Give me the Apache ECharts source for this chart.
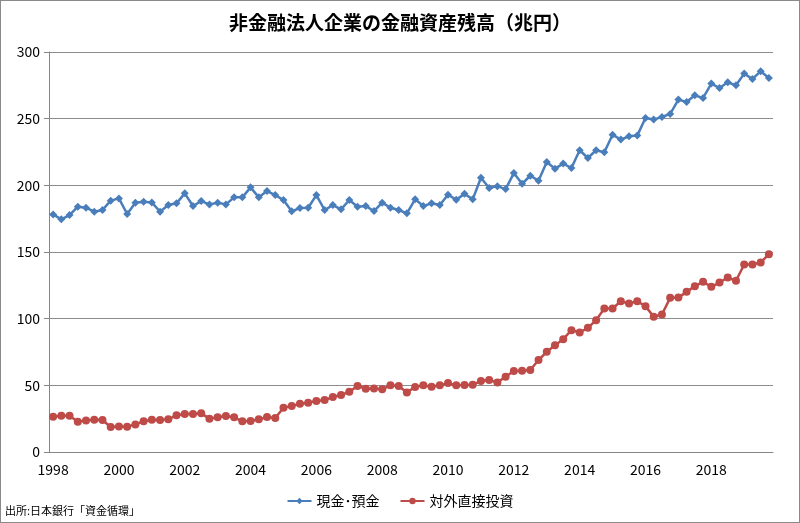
<!DOCTYPE html>
<html><head><meta charset="utf-8">
<script src="https://cdn.jsdelivr.net/npm/echarts@6/dist/echarts.min.js"></script>
<style>
html,body{margin:0;padding:0;background:#fff;}
#wrap{position:relative;width:800px;height:523px;box-sizing:border-box;border:1px solid #8a8a8a;}
#chart{position:absolute;left:-1px;top:-1px;width:800px;height:523px;}
</style></head>
<body><div id="wrap"><div id="chart"></div></div>
<script>
const titleText = '非金融法人企業の金融資産残高（兆円）';
const sourceText = '出所:日本銀行「資金循環」';
const seriesNames = ['現金･預金', '対外直接投資'];
const years = [];
for (let y = 1998; y <= 2019; y++) years.push(y);
const quarters = [];
years.forEach(y => { for (let q = 1; q <= 4; q++) quarters.push(y + 'Q' + q); });
const yTicks = [0, 50, 100, 150, 200, 250, 300];

const cash = [178.2, 174.5, 177.7, 184, 183.2, 180.2, 181.5, 188.5, 190.2, 178.5, 187, 187.7, 187.2, 180.2, 185.2, 186.5, 194, 184.5, 188.2, 185.7, 187, 185.7, 191, 191, 198.5, 191, 195.7, 192.7,
  189, 180.5, 183, 183.2, 192.7, 181.5, 185.2, 182, 189, 184, 184.5, 180.7, 187, 183.2, 181.5, 179, 189.5, 184.5, 186.5, 185.3, 193, 189.2, 193.6, 189.5, 205.7, 198, 199.4, 197.2, 209.2, 201.2, 207.2, 203.5,
  217.5, 212.5, 216.3, 213, 226.3, 220.5, 226.3, 224.8, 238, 234.3, 236.8, 237.3, 250.5, 249.3, 251.3, 253.5, 264.3, 262.5, 267.5, 265.5, 276.3, 273, 277.3, 275, 283.8, 279.8, 285.5, 280.5];

const fdi = [26.5, 27.2, 27.2, 22.7, 23.7, 24.2, 24, 18.7, 19.2, 19, 20.7, 23, 24.2, 24, 24.5, 27.5, 28.5, 28.5, 29, 25, 26, 27, 26, 23, 23.2, 24.5, 26.2, 25.5, 33.2, 34.5, 36.2,
  37, 38.2, 39, 41.2, 42.7, 45.2, 49.5, 47.5, 47.7, 47, 50, 49.5, 44.7, 48.7, 50, 49, 50, 51.7, 50, 50.2, 50.5, 53.2, 54, 52.2, 56.5, 60.8, 61, 61.5,
  69,
  75.1, 80.1, 84.6, 91.4, 89.6, 93.1, 98.9, 107.6, 107.6, 113.1, 111.4, 113.1, 109.4, 101.4, 103.1, 115.6, 115.8, 120.1, 124.4, 127.6, 123.9, 127.1, 130.9, 128.4, 140.6, 140.6, 142.1, 148.4];

const FONT = '"Noto Sans CJK JP", "Noto Sans", sans-serif';
const chart = echarts.init(document.getElementById('chart'));
chart.setOption({
  animation: false,
  backgroundColor: 'transparent',
  textStyle: { fontFamily: FONT },
  title: {
    text: titleText, left: 'center', top: 8,
    textStyle: { fontFamily: FONT, fontSize: 19, fontWeight: 'bold', color: '#000' }
  },
  graphic: [{
    type: 'text', left: 5, top: 505,
    style: { text: sourceText, font: '11px ' + FONT, fill: '#000' }
  }],
  legend: {
    bottom: 10, left: 'center', itemWidth: 24, itemHeight: 8, itemGap: 20,
    textStyle: { fontFamily: FONT, fontSize: 14, color: '#000' },
    data: seriesNames
  },
  grid: { left: 49, right: 27, top: 52, bottom: 71, containLabel: false },
  xAxis: {
    type: 'category', data: quarters, boundaryGap: true,
    axisLine: { lineStyle: { color: '#868686', width: 1 } },
    axisTick: { interval: 3, length: 5, lineStyle: { color: '#868686' } },
    axisLabel: { interval: 7, margin: 11, fontSize: 14, color: '#000', fontFamily: FONT, formatter: v => v.slice(0, 4) },
    splitLine: { show: false }
  },
  yAxis: {
    type: 'value', min: yTicks[0], max: yTicks[yTicks.length - 1], interval: 50,
    axisLine: { show: true, lineStyle: { color: '#868686', width: 1 } },
    axisTick: { show: true, length: 5, lineStyle: { color: '#868686' } },
    axisLabel: { margin: 9, fontSize: 14, color: '#000', fontFamily: FONT },
    splitLine: { lineStyle: { color: '#8c8c8c', width: 1 } }
  },
  series: [{
    name: seriesNames[0], type: 'line', data: cash,
    symbol: 'diamond', symbolSize: 8, showAllSymbol: true,
    lineStyle: { color: '#4a7ebb', width: 2.5 },
    itemStyle: { color: '#4a7ebb' }
  }, {
    name: seriesNames[1], type: 'line', data: fdi,
    symbol: 'circle', symbolSize: 8, showAllSymbol: true,
    lineStyle: { color: '#be4b48', width: 2.5 },
    itemStyle: { color: '#be4b48' }
  }]
});
</script></body></html>
